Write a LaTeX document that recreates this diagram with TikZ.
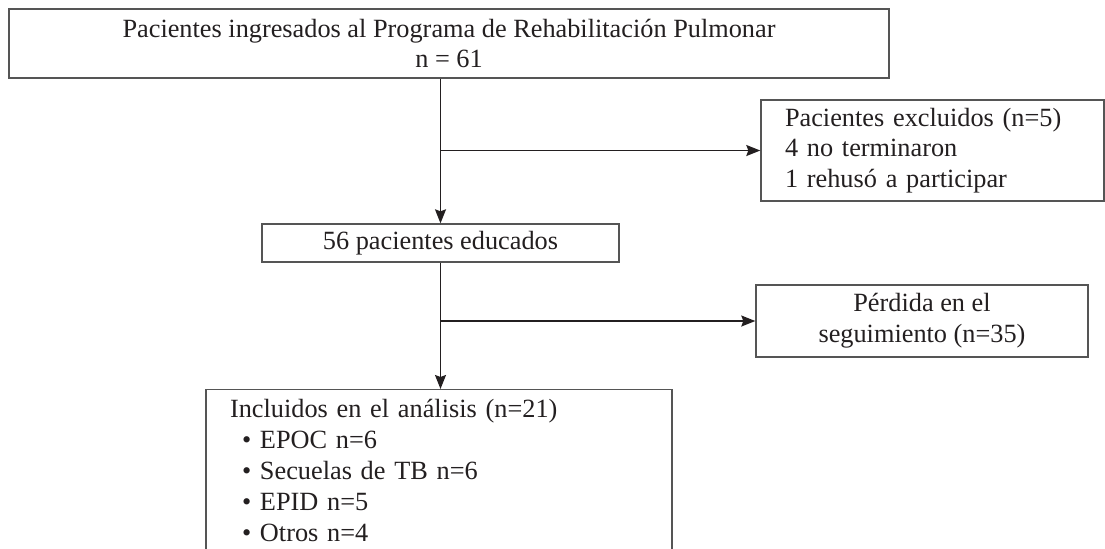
\documentclass[tikz,border=0pt]{standalone}
\usepackage{fontspec}
\setmainfont{Liberation Serif}
\usetikzlibrary{arrows.meta, calc}
\definecolor{lnblack}{HTML}{231F20}
\definecolor{bxgray}{HTML}{555555}

\begin{document}
\begin{tikzpicture}[x=0.5pt, y=-0.5pt,
  >={Stealth[length=7pt, width=5.5pt, inset=1pt]},
  flowbox/.style={draw=bxgray, line width=0.7pt, inner sep=0pt,
    font=\fontsize{13.15}{15.4}\selectfont, text=lnblack},
  flowline/.style={lnblack, line width=0.7pt}]

% Background and frame of the page
\fill[white] (0,0) rectangle (1105,548);
\useasboundingbox (0,0) rectangle (1105,548);
\clip (0,0) rectangle (1105,548);

% ================================================================
% Boxes
% ================================================================
\node[flowbox, minimum width=440pt, minimum height=34.5pt, align=center]
  (ingresados) at (449,43.5)
  {Pacientes ingresados al Programa de Rehabilitación Pulmonar\\ n = 61};

\node[flowbox, minimum width=171.5pt, minimum height=50.5pt,
      text width=147.5pt, align=left, inner xsep=12pt]
  (excluidos) at (932.5,150.5)
  {Pacientes excluidos (n=5)\\ 4 no terminaron\\ 1 rehusó a participar};

\node[flowbox, minimum width=178.5pt, minimum height=19pt]
  (educados) at (440.5,243) {56 pacientes educados};

\node[flowbox, minimum width=166pt, minimum height=36pt, align=center]
  (perdida) at (922,321) {Pérdida en el\\ seguimiento (n=35)};

% open at the bottom: the page cuts it off
\node[flowbox, anchor=north, text width=209pt, align=left,
      inner xsep=12pt, inner ysep=5pt]
  (incluidos) at (439,389)
  {Incluidos en el análisis (n=21)\\
   \hspace*{6pt}\textbullet\ EPOC n=6\\
   \hspace*{6pt}\textbullet\ Secuelas de TB n=6\\
   \hspace*{6pt}\textbullet\ EPID n=5\\
   \hspace*{6pt}\textbullet\ Otros n=4\\[4pt]};

% ================================================================
% Connectors
% ================================================================
\coordinate (t1) at (ingresados.south -| educados.north);
\coordinate (b1) at (educados.north |- excluidos.west);
\coordinate (b2) at (educados.south |- perdida.west);

\draw[flowline, ->] (t1) -- (educados.north);
\draw[flowline, ->] (b1) -- (excluidos.west);
\draw[flowline, ->] (educados.south) -- (educados.south |- incluidos.north);
\draw[flowline, ->] (b2) -- (perdida.west);

\end{tikzpicture}
\end{document}
